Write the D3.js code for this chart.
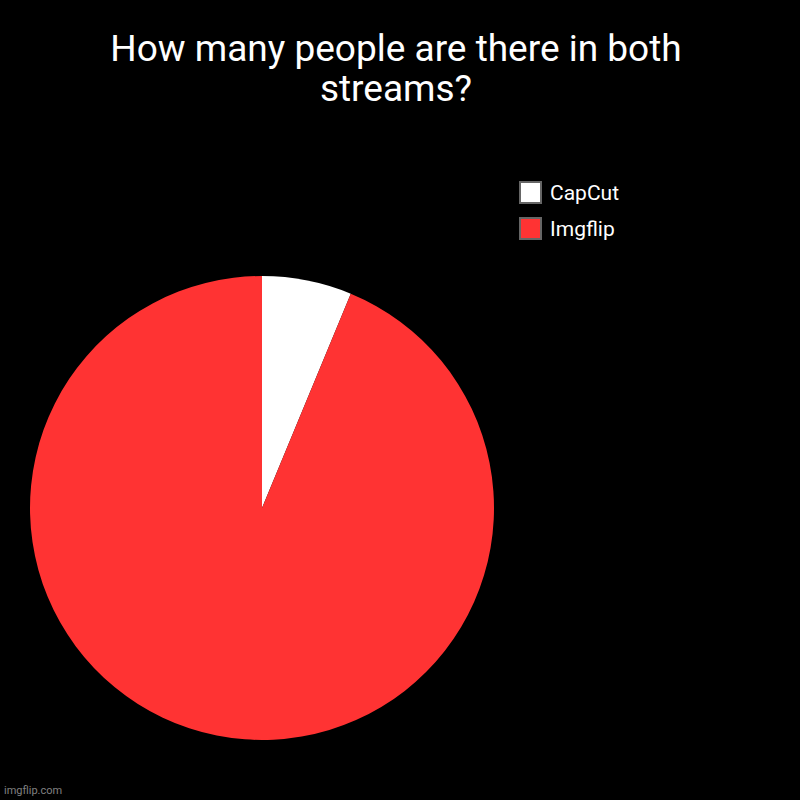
<!DOCTYPE html>
<html><head><meta charset="utf-8">
<script src="https://cdn.jsdelivr.net/npm/d3@7"></script>
<style>html,body{margin:0;padding:0;background:#000;}</style>
</head><body>
<script>
const titleLines = ["How many people are there in both", "streams?"];
const categories = ["CapCut", "Imgflip"];
const values = [1, 15];
const colors = ["#ffffff", "#ff3333"];

const W = 800, H = 800;
const svg = d3.select("body").append("svg").attr("width", W).attr("height", H)
  .style("background", "#000").style("font-family", "Roboto, sans-serif");
svg.append("rect").attr("width", W).attr("height", H).attr("fill", "#000");

svg.append("g").selectAll("text").data(titleLines).join("text")
  .attr("x", 396).attr("y", (d, i) => 61 + i * 40)
  .attr("text-anchor", "middle").attr("fill", "#fff").attr("font-size", 37)
  .text(d => d);

const data = categories.map((c, i) => ({ name: c, value: values[i], color: colors[i] }));
const pie = d3.pie().value(d => d.value).sort(null);
const arc = d3.arc().innerRadius(0).outerRadius(232);
const g = svg.append("g").attr("transform", "translate(262,508)");
g.selectAll("path").data(pie(data)).join("path")
  .attr("d", arc).attr("fill", d => d.data.color);

const leg = svg.append("g").attr("transform", "translate(519,181)");
const item = leg.selectAll("g").data(data).join("g")
  .attr("transform", (d, i) => `translate(0,${i * 36})`);
item.append("rect").attr("x", 1).attr("y", 1).attr("width", 21).attr("height", 21)
  .attr("fill", d => d.color).attr("stroke", "#666").attr("stroke-width", 2);
item.append("text").attr("x", 31).attr("y", 19).attr("fill", "#fff")
  .attr("font-size", 21).text(d => d.name);

svg.append("text").attr("x", 4).attr("y", 794).attr("fill", "#808080")
  .attr("font-size", 11).text("imgflip.com");
</script>
</body></html>
